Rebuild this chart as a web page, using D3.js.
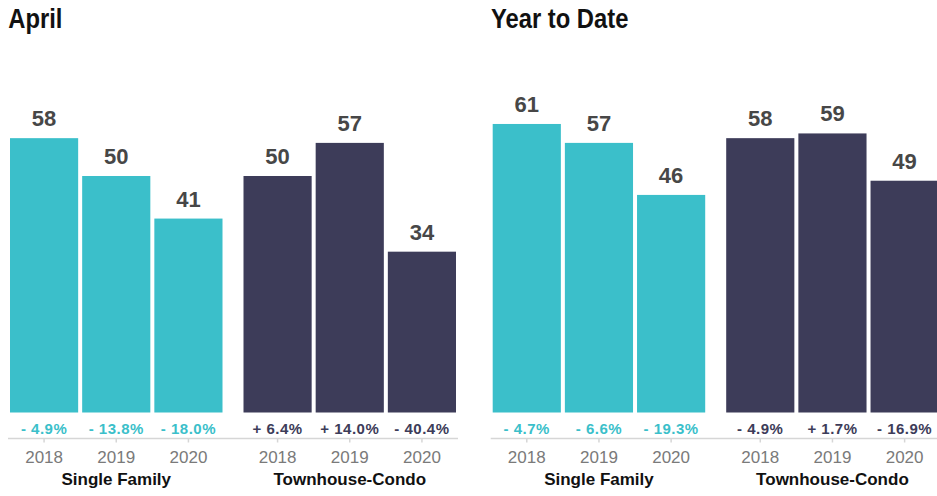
<!DOCTYPE html>
<html>
<head>
<meta charset="utf-8">
<script src="https://cdn.jsdelivr.net/npm/d3@7"></script>
<style>
  html, body { margin: 0; padding: 0; background: #fff; }
  svg { display: block; }
  .lbl, .title { font-family: "Liberation Sans", Arial, Helvetica, sans-serif; }
</style>
</head>
<body>
<svg id="chart" width="937" height="496"></svg>
<script>
// Days on market, by property type and year
const years = ["2018", "2019", "2020"];
const categories = ["Single Family", "Townhouse-Condo"];
const panelTitles = ["April", "Year to Date"];

const aprilSingleFamily = [58, 50, 41];
const aprilTownhouse = [50, 57, 34];
const ytdSingleFamily = [61, 57, 46];
const ytdTownhouse = [58, 59, 49];

const aprilSingleFamilyChange = ["- 4.9%", "- 13.8%", "- 18.0%"];
const aprilTownhouseChange = ["+ 6.4%", "+ 14.0%", "- 40.4%"];
const ytdSingleFamilyChange = ["- 4.7%", "- 6.6%", "- 19.3%"];
const ytdTownhouseChange = ["- 4.9%", "+ 1.7%", "- 16.9%"];

const colors = { "Single Family": "#3bbfca", "Townhouse-Condo": "#3d3c59" };

const panels = [
  { title: panelTitles[0], x0: 10,
    series: [
      { cat: categories[0], values: aprilSingleFamily, change: aprilSingleFamilyChange },
      { cat: categories[1], values: aprilTownhouse, change: aprilTownhouseChange }
    ] },
  { title: panelTitles[1], x0: 492.7,
    series: [
      { cat: categories[0], values: ytdSingleFamily, change: ytdSingleFamilyChange },
      { cat: categories[1], values: ytdTownhouse, change: ytdTownhouseChange }
    ] }
];

const svg = d3.select("#chart");
const baseY = 412.5;
const axisY = 438.5;
const y = d3.scaleLinear().domain([0, 80]).range([baseY, baseY - 80 * 4.73]);

panels.forEach(p => {
  const g = svg.append("g");

  // condensed bold heading: horizontally squeezed sans
  g.append("text")
    .attr("class", "title")
    .attr("transform", `translate(${p.x0 - 1.8},27.5) scale(0.835,1)`)
    .attr("font-size", 28.5)
    .attr("font-weight", "bold")
    .attr("fill", "#111")
    .text(p.title);

  const outer = d3.scaleBand()
    .domain(categories)
    .range([p.x0, p.x0 + 446])
    .paddingInner(21 / 233.5)
    .paddingOuter(0);

  const inner = d3.scaleBand()
    .domain(years)
    .range([0, outer.bandwidth()])
    .paddingInner(4 / 72)
    .paddingOuter(0);

  // baseline rule under the change labels
  g.append("line")
    .attr("x1", p.x0 - 2)
    .attr("x2", p.x0 + 448)
    .attr("y1", axisY)
    .attr("y2", axisY)
    .attr("stroke", "#d6d6d6")
    .attr("stroke-width", 1.5);

  p.series.forEach(s => {
    const sg = g.append("g").attr("transform", `translate(${outer(s.cat)},0)`);
    const rows = years.map((yr, i) => ({ yr, v: s.values[i], c: s.change[i] }));

    sg.selectAll("rect").data(rows).join("rect")
      .attr("x", d => inner(d.yr))
      .attr("width", inner.bandwidth())
      .attr("y", d => y(d.v))
      .attr("height", d => y(0) - y(d.v))
      .attr("fill", colors[s.cat]);

    sg.selectAll("text.val").data(rows).join("text")
      .attr("class", "val lbl")
      .attr("x", d => inner(d.yr) + inner.bandwidth() / 2)
      .attr("y", d => y(d.v) - 12)
      .attr("text-anchor", "middle")
      .attr("font-size", 22)
      .attr("font-weight", "bold")
      .attr("fill", "#474747")
      .text(d => d.v);

    sg.selectAll("text.chg").data(rows).join("text")
      .attr("class", "chg lbl")
      .attr("x", d => inner(d.yr) + inner.bandwidth() / 2)
      .attr("y", 433.5)
      .attr("text-anchor", "middle")
      .attr("font-size", 15)
      .attr("font-weight", "bold")
      .attr("letter-spacing", "0.5px")
      .attr("fill", colors[s.cat])
      .text(d => d.c);

    const axis = d3.axisBottom(inner).tickSize(4).tickPadding(8).tickSizeOuter(0);
    const ag = sg.append("g")
      .attr("transform", `translate(0,${axisY})`)
      .call(axis);
    ag.select(".domain").remove();
    ag.selectAll(".tick line").attr("stroke", "#d6d6d6").attr("stroke-width", 1.5);
    ag.selectAll(".tick text")
      .attr("class", "lbl")
      .attr("font-size", 17)
      .attr("fill", "#7a7a7a");

    sg.append("text")
      .attr("class", "lbl")
      .attr("x", outer.bandwidth() / 2)
      .attr("y", 485)
      .attr("text-anchor", "middle")
      .attr("font-size", 17)
      .attr("font-weight", "bold")
      .attr("fill", "#111")
      .text(s.cat);
  });
});
</script>
</body>
</html>
